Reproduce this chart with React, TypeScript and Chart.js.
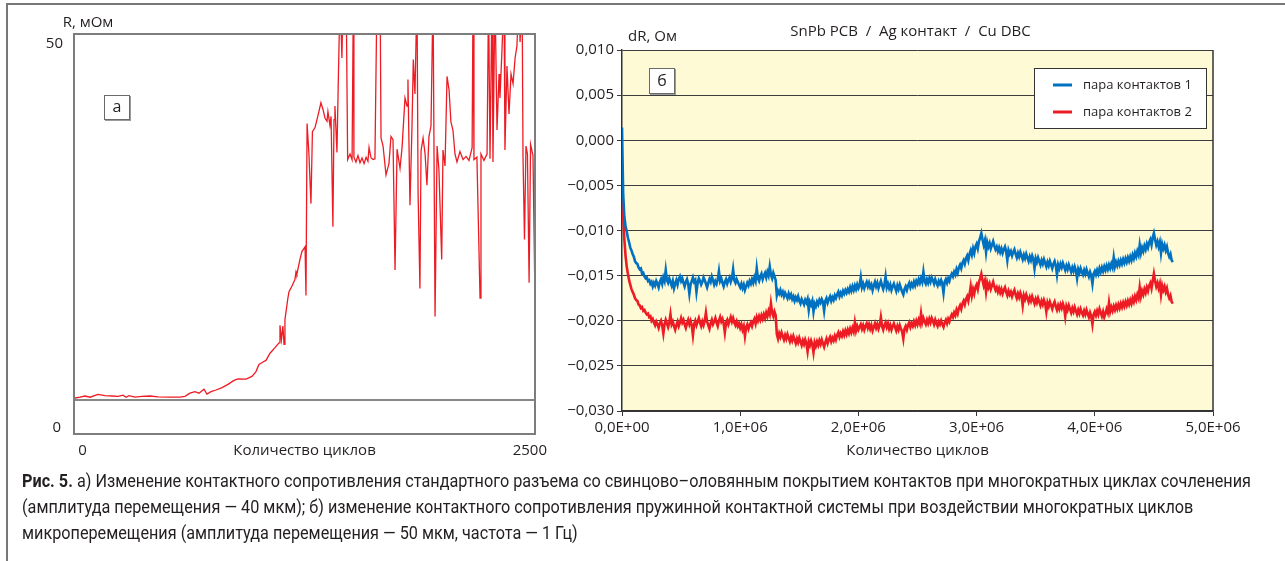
import React, { useEffect, useLayoutEffect, useRef } from "react";
import { Chart, registerables } from "chart.js";

Chart.register(...registerables);

// ---------------- Chart (а): contact resistance, mOhm vs cycles ----------------
const aCycles = [
  5, 33, 60, 87, 130, 168, 206, 239, 266, 282, 298, 331, 369, 412, 456, 521, 575, 602, 629, 656,
  678, 705, 721, 743, 770, 803, 835, 868, 889, 933, 965, 987, 1003, 1025, 1041, 1063, 1090, 1112, 1117, 1125,
  1133, 1139, 1144, 1160, 1166, 1182, 1198, 1204, 1209, 1226, 1236, 1253, 1258, 1264, 1274, 1285, 1293, 1307, 1323, 1339,
  1350, 1361, 1372, 1377, 1388, 1394, 1404, 1410, 1415, 1426, 1434, 1443, 1453, 1459, 1470, 1476, 1484, 1497, 1508, 1515,
  1518, 1529, 1540, 1551, 1562, 1573, 1584, 1594, 1600, 1611, 1622, 1632, 1643, 1660, 1665, 1676, 1692, 1708, 1719, 1730,
  1741, 1752, 1768, 1779, 1795, 1806, 1811, 1822, 1833, 1840, 1849, 1860, 1866, 1876, 1882, 1893, 1904, 1914, 1925, 1936,
  1947, 1958, 1969, 1979, 1994, 2001, 2012, 2023, 2034, 2044, 2055, 2066, 2077, 2093, 2110, 2126, 2142, 2159, 2164, 2169,
  2185, 2202, 2207, 2223, 2240, 2248, 2256, 2267, 2272, 2283, 2294, 2305, 2310, 2321, 2332, 2337, 2348, 2359, 2370, 2381,
  2392, 2402, 2413, 2419, 2430, 2435, 2443, 2451, 2459, 2468, 2476, 2489, 2500,
];
const aR = [
  4.5, 4.6, 4.75, 4.6, 4.95, 4.8, 4.75, 4.7, 4.85, 4.6, 4.8, 4.6, 4.7, 4.75, 4.65, 4.6, 4.6, 4.7, 5.1, 5.3,
  5.1, 5.6, 5.0, 5.3, 5.5, 5.8, 6.2, 6.7, 6.9, 6.85, 7.2, 7.8, 8.7, 9.0, 9.2, 10.1, 10.8, 11.4, 13.6, 11.8,
  13.5, 11.2, 14.3, 17.0, 17.8, 18.5, 19.3, 20.3, 20.0, 21.9, 22.8, 23.4, 17.3, 38.8, 35.0, 28.8, 37.8, 38.3, 39.8, 41.4,
  40.6, 39.5, 39.1, 40.3, 38.6, 39.7, 25.9, 39.3, 41.0, 35.2, 45.0, 55, 47, 55, 55, 55, 34.3, 35.0, 34.3, 55,
  34.6, 34.0, 34.8, 33.9, 34.5, 33.8, 34.6, 34.1, 35.8, 34.5, 34.3, 34.4, 55, 55, 37.0, 36.0, 32.4, 33.8, 37.2, 36.8,
  20.5, 35.6, 33.2, 35.8, 42.0, 41.0, 44.3, 28.6, 38.5, 46.8, 42.5, 55, 30.0, 18.2, 35.4, 37.0, 35.0, 31.1, 37.2, 38.5,
  55, 14.7, 36.0, 33.0, 21.8, 35.5, 33.5, 44.7, 43.0, 39.0, 38.0, 35.0, 34.0, 35.3, 34.3, 34.7, 34.2, 35.8, 55, 34.3,
  34.6, 17.0, 35.0, 34.2, 35.0, 55, 34.4, 55, 34.0, 55, 38.0, 45.0, 42.0, 48.0, 55, 35.5, 46.0, 40.0, 45.0, 43.8,
  47.0, 48.5, 55, 49.0, 55, 34.7, 24.3, 36.0, 35.0, 18.9, 36.2, 34.8, 16.8,
];
const aRefLine = 4.25;
const aXRange = [0, 2500];
const aYRange = [0, 50];

// ---------------- Chart (б): dR (mOhm) vs cycles, one reading every 10 000 cycles ----------------
const bCycleStep = 10000;
const bPair1 = [
  1.4, -6.0, -8.5, -9.5, -10.1, -10.8, -11.3, -11.9, -12.2, -12.6,
  -12.9, -13.4, -13.6, -13.7, -14.1, -14.3, -14.2, -14.8, -14.7, -15.1,
  -15.3, -15.2, -15.6, -15.5, -15.9, -15.7, -16.2, -15.8, -16.1, -15.6,
  -15.9, -16.3, -15.7, -15.4, -15.9, -15.2, -15.6, -14.4, -15.5, -15.8,
  -15.3, -15.7, -16.1, -15.6, -16.4, -15.9, -15.5, -16.0, -15.4, -15.1,
  -15.6, -15.3, -15.8, -16.2, -15.7, -15.4, -15.9, -17.0, -16.0, -15.6,
  -15.2, -15.7, -15.5, -16.8, -15.8, -15.3, -15.6, -16.0, -15.7, -15.2,
  -15.5, -15.9, -16.3, -15.8, -15.4, -15.7, -15.1, -15.5, -16.0, -15.6,
  -15.9, -15.4, -14.5, -15.6, -15.3, -15.8, -16.2, -15.7, -15.4, -15.9,
  -15.5, -15.2, -15.7, -15.3, -14.3, -15.5, -15.8, -15.4, -15.7, -16.0,
  -16.3, -15.9, -16.4, -16.0, -16.6, -16.2, -15.8, -16.1, -15.6, -15.9,
  -15.4, -15.8, -15.2, -15.6, -14.2, -15.3, -15.6, -15.1, -14.8, -15.4,
  -15.0, -14.7, -15.2, -14.6, -15.0, -14.0, -14.9, -15.3, -14.7, -15.1,
  -15.5, -17.2, -16.7, -17.0, -16.6, -17.1, -16.8, -17.3, -16.9, -17.2,
  -17.5, -17.0, -17.4, -17.1, -17.6, -17.3, -17.8, -17.4, -17.7, -17.3,
  -17.8, -18.1, -17.6, -17.9, -18.2, -17.7, -18.0, -17.6, -18.8, -17.9,
  -18.2, -17.8, -19.0, -18.1, -18.4, -17.9, -18.2, -17.7, -18.0, -17.6,
  -17.9, -18.9, -17.8, -17.5, -18.0, -17.6, -17.3, -17.8, -17.4, -17.7,
  -17.2, -17.5, -17.1, -16.8, -17.3, -16.9, -17.2, -16.7, -17.0, -16.6,
  -16.9, -16.5, -16.8, -16.3, -16.7, -16.2, -16.6, -16.1, -16.5, -16.0,
  -16.4, -16.1, -15.2, -16.3, -15.9, -16.4, -16.0, -15.7, -16.2, -15.8,
  -16.3, -16.0, -16.6, -16.1, -15.7, -16.2, -15.8, -16.4, -16.0, -15.6,
  -16.1, -16.5, -16.0, -15.1, -16.3, -15.9, -16.4, -16.0, -16.6, -16.2,
  -15.9, -16.3, -16.7, -16.1, -16.5, -16.0, -16.4, -16.8, -17.1, -16.5,
  -16.2, -16.6, -16.1, -15.8, -16.3, -15.9, -16.2, -15.7, -16.1, -15.6,
  -15.9, -15.4, -15.8, -15.3, -15.7, -14.6, -15.6, -15.9, -15.4, -15.8,
  -15.3, -15.7, -15.2, -15.5, -15.9, -15.4, -15.8, -16.1, -15.6, -15.9,
  -15.5, -15.9, -16.9, -15.7, -15.4, -15.8, -15.3, -15.6, -15.1, -14.8,
  -15.1, -14.6, -14.9, -14.3, -14.7, -14.1, -13.8, -14.2, -13.6, -13.3,
  -13.7, -13.1, -12.8, -13.3, -12.6, -12.2, -12.7, -12.0, -12.5, -11.8,
  -11.5, -12.0, -11.2, -10.8, -10.3, -11.0, -11.6, -11.1, -12.4, -11.3,
  -11.8, -11.4, -12.0, -11.6, -11.2, -11.7, -12.1, -11.8, -12.3, -11.9,
  -12.4, -12.0, -12.5, -12.1, -11.8, -12.3, -13.3, -12.2, -12.6, -12.3,
  -12.8, -12.4, -12.1, -12.6, -13.0, -12.5, -12.9, -12.4, -12.8, -13.2,
  -12.7, -13.1, -12.6, -13.0, -13.4, -12.9, -13.3, -12.8, -13.2, -14.2,
  -13.1, -13.5, -13.0, -13.4, -13.8, -13.3, -13.7, -13.2, -13.6, -14.0,
  -13.5, -13.9, -13.4, -13.8, -14.2, -13.7, -13.4, -13.9, -14.9, -13.8,
  -14.2, -13.7, -14.1, -13.6, -14.0, -14.4, -13.9, -14.3, -13.8, -14.2,
  -14.6, -14.1, -14.5, -14.0, -14.4, -15.3, -14.3, -14.7, -14.2, -14.6,
  -14.9, -14.4, -14.8, -14.3, -14.7, -15.1, -14.6, -15.0, -15.9, -14.8,
  -14.5, -14.9, -14.4, -14.8, -14.2, -14.6, -14.1, -14.5, -14.0, -14.4,
  -13.9, -14.3, -13.8, -14.2, -13.7, -14.1, -13.0, -14.0, -13.5, -13.9,
  -13.4, -13.8, -13.3, -13.7, -13.2, -13.6, -13.1, -13.5, -13.0, -13.4,
  -12.9, -13.3, -12.7, -13.1, -12.5, -12.9, -12.3, -12.7, -11.6, -12.5,
  -11.9, -12.3, -11.7, -12.1, -11.5, -11.9, -11.3, -11.0, -11.6, -10.8,
  -10.3, -11.0, -11.6, -11.2, -11.8, -11.3, -12.5, -11.5, -12.0, -11.6,
  -12.2, -11.8, -12.5, -12.9, -12.6, -13.3, -13.5,
];
const bPair2 = [
  -5.0, -8.5, -11.0, -12.8, -14.0, -14.8, -15.5, -16.0, -16.5, -16.8,
  -17.1, -17.5, -17.7, -17.8, -18.2, -18.3, -18.6, -18.5, -18.9, -18.8,
  -19.1, -19.3, -19.2, -19.6, -19.5, -20.0, -19.8, -20.2, -20.5, -20.1,
  -20.4, -20.8, -20.3, -20.0, -20.5, -21.4, -20.4, -19.9, -20.3, -20.7,
  -20.2, -19.3, -20.4, -20.1, -20.6, -21.0, -20.5, -20.1, -20.6, -20.2,
  -19.7, -20.2, -19.9, -20.4, -20.8, -20.3, -19.9, -20.4, -20.0, -20.5,
  -21.6, -20.4, -20.0, -20.5, -20.1, -19.7, -20.2, -20.6, -20.1, -20.5,
  -20.0, -19.1, -20.1, -20.5, -20.9, -20.3, -19.9, -20.4, -20.1, -19.7,
  -20.2, -20.6, -20.0, -19.6, -20.1, -19.8, -20.3, -21.3, -20.2, -19.9,
  -20.4, -20.0, -19.6, -20.1, -19.7, -20.2, -20.5, -20.1, -20.6, -20.3,
  -20.8, -20.4, -21.0, -20.6, -21.7, -20.7, -20.4, -20.9, -20.5, -20.2,
  -20.6, -20.1, -19.8, -20.3, -19.6, -20.0, -19.5, -19.9, -19.4, -19.8,
  -19.3, -19.7, -19.1, -19.5, -18.9, -19.3, -18.1, -19.1, -19.5, -19.0,
  -19.4, -21.5, -22.0, -21.4, -21.8, -21.3, -21.7, -22.1, -21.6, -22.0,
  -21.5, -21.9, -22.3, -21.8, -22.2, -21.7, -22.1, -22.5, -22.0, -22.4,
  -21.9, -22.3, -22.7, -22.2, -22.6, -22.1, -22.5, -23.4, -22.3, -22.7,
  -22.2, -22.6, -23.5, -22.4, -22.8, -22.3, -22.7, -22.2, -22.6, -22.1,
  -22.5, -22.9, -22.4, -22.0, -22.5, -22.1, -21.8, -22.3, -21.9, -22.2,
  -21.7, -22.1, -21.6, -21.3, -21.8, -21.4, -21.7, -21.2, -21.6, -21.1,
  -21.5, -21.0, -21.4, -20.9, -21.3, -20.8, -21.2, -20.2, -21.1, -20.6,
  -21.0, -20.7, -20.4, -20.9, -20.5, -21.0, -20.6, -20.3, -20.8, -20.4,
  -20.9, -20.5, -21.1, -20.7, -20.3, -20.8, -20.4, -20.9, -20.5, -19.6,
  -20.6, -21.0, -20.5, -20.2, -20.7, -20.3, -20.9, -20.5, -21.0, -20.6,
  -20.3, -20.7, -21.1, -20.6, -21.0, -20.5, -20.9, -21.2, -22.0, -20.9,
  -20.6, -21.0, -20.5, -20.2, -20.7, -20.3, -20.6, -20.1, -20.5, -20.0,
  -20.4, -19.9, -20.3, -19.2, -20.2, -19.7, -20.1, -20.4, -19.9, -20.3,
  -19.8, -20.2, -19.7, -20.0, -20.4, -19.9, -20.3, -20.6, -20.1, -20.4,
  -20.0, -20.4, -20.7, -20.2, -19.9, -20.3, -19.8, -20.1, -19.6, -19.3,
  -19.6, -19.1, -19.4, -18.8, -19.2, -18.6, -18.3, -18.7, -18.1, -17.8,
  -18.2, -17.6, -17.3, -17.8, -17.1, -16.2, -17.2, -16.5, -17.0, -16.3,
  -16.0, -16.5, -15.7, -15.3, -14.8, -15.5, -16.1, -15.6, -16.8, -15.8,
  -16.3, -15.9, -16.5, -16.1, -15.7, -16.2, -16.6, -16.3, -16.8, -16.4,
  -16.9, -16.5, -17.0, -16.6, -16.3, -16.8, -17.2, -16.7, -17.1, -16.8,
  -17.3, -16.9, -16.6, -17.1, -17.5, -17.0, -17.4, -16.9, -17.3, -18.3,
  -17.2, -17.6, -17.1, -17.5, -17.9, -17.4, -17.8, -17.3, -17.7, -18.1,
  -17.6, -18.0, -17.5, -17.9, -18.3, -17.8, -18.2, -17.7, -18.1, -19.0,
  -18.0, -18.4, -17.9, -18.3, -18.7, -18.2, -17.9, -18.4, -18.8, -18.3,
  -18.7, -18.2, -18.6, -18.1, -18.5, -19.5, -18.4, -18.8, -18.3, -18.7,
  -19.1, -18.6, -19.0, -18.5, -18.9, -19.3, -18.8, -19.2, -18.7, -19.1,
  -19.4, -18.9, -19.3, -18.8, -19.2, -19.6, -19.1, -19.5, -20.4, -19.3,
  -19.0, -19.4, -18.9, -19.3, -18.7, -19.1, -19.5, -19.0, -19.6, -19.2,
  -18.7, -19.1, -18.0, -19.0, -18.5, -18.9, -18.4, -18.8, -18.3, -18.7,
  -18.2, -18.6, -18.1, -18.5, -18.0, -18.4, -17.9, -18.3, -17.8, -18.2,
  -17.7, -18.1, -17.5, -17.9, -17.3, -17.7, -17.1, -17.5, -16.3, -17.3,
  -16.7, -17.1, -16.5, -16.9, -16.3, -16.7, -16.1, -15.8, -16.4, -15.6,
  -14.8, -15.6, -16.2, -15.8, -16.4, -15.9, -17.1, -16.1, -16.6, -16.2,
  -16.8, -16.4, -17.1, -17.5, -17.2, -17.9, -18.1,
];
const bSeriesNames = ["пара контактов 1", "пара контактов 2"];
const bXRange = [0, 5e6];
const bXStep = 1e6;
const bYRange = [-0.03, 0.01];
const bYStep = 0.005;

const captionLines = [
  "а) Изменение контактного сопротивления стандартного разъема со свинцово–оловянным покрытием контактов при многократных циклах сочленения",
  "(амплитуда перемещения — 40 мкм); б) изменение контактного сопротивления пружинной контактной системы при воздействии многократных циклов",
  "микроперемещения (амплитуда перемещения — 50 мкм, частота — 1 Гц)",
];
const captionWidth = 1229;

const FONT = "'Open Sans', 'Noto Sans', sans-serif";
const TEXT = "#231f20";
const RED = "#ed1c24";
const BLUE = "#0070c0";

function txt(ctx: CanvasRenderingContext2D, s: string, x: number, y: number, align: CanvasTextAlign, size = 15) {
  ctx.save();
  ctx.font = `${size}px ${FONT}`;
  ctx.fillStyle = TEXT;
  ctx.textAlign = align;
  ctx.textBaseline = "middle";
  ctx.fillText(s, x, y);
  ctx.restore();
}

function labelBox(ctx: CanvasRenderingContext2D, s: string, x: number, y: number, w: number, h: number) {
  ctx.save();
  ctx.fillStyle = "#9a9a9a";
  ctx.fillRect(x + 1, y + 1, w, h);
  ctx.fillStyle = "#ffffff";
  ctx.fillRect(x, y, w, h);
  ctx.strokeStyle = "#6a6a6a";
  ctx.lineWidth = 1;
  ctx.strokeRect(x + 0.5, y + 0.5, w - 1, h - 1);
  ctx.restore();
  txt(ctx, s, x + w / 2, y + h / 2, "center", 16);
}

const fmtY = (v: number) => {
  const n = Math.abs(v) < 1e-9 ? 0 : v;
  const s = Math.abs(n).toFixed(3).replace(".", ",");
  return n < 0 ? "−" + s : s;
};
const fmtX = (v: number) => {
  const [m, e] = Number(v).toExponential(1).split("e");
  const ev = parseInt(e, 10);
  return m.replace(".", ",") + "E" + (ev < 0 ? "-" : "+") + String(Math.abs(ev)).padStart(2, "0");
};

function ChartA() {
  const ref = useRef<HTMLCanvasElement>(null);
  useEffect(() => {
    const n = Math.min(aCycles.length, aR.length);
    const data = [];
    for (let i = 0; i < n; i++) data.push({ x: aCycles[i], y: aR[i] });
    const deco = {
      id: "decoA",
      afterDatasetsDraw(chart: any) {
        const { ctx, chartArea: ca } = chart;
        ctx.save();
        ctx.strokeStyle = "#7d7d7d";
        ctx.lineWidth = 2;
        ctx.strokeRect(ca.left, ca.top, ca.right - ca.left, ca.bottom - ca.top);
        ctx.restore();
        labelBox(ctx, "а", ca.left + 30, ca.top + 61, 26, 25);
        txt(ctx, "R, мОм", ca.left + 14, ca.top - 11, "center");
        txt(ctx, String(aYRange[1]), ca.left - 11, ca.top + 10, "right");
        txt(ctx, String(aYRange[0]), ca.left - 13, ca.bottom - 6, "right");
        txt(ctx, String(aXRange[0]), ca.left + 8.5, ca.bottom + 17, "center");
        txt(ctx, String(aXRange[1]), ca.right + 12, ca.bottom + 17, "right");
        txt(ctx, "Количество циклов", (ca.left + ca.right) / 2, ca.bottom + 17, "center");
      },
    };
    const chart = new Chart(ref.current!, {
      type: "line",
      data: {
        datasets: [
          { data, borderColor: RED, borderWidth: 1.3, pointRadius: 0, tension: 0 },
          {
            data: [
              { x: aXRange[0], y: aRefLine },
              { x: aXRange[1], y: aRefLine },
            ],
            borderColor: "#111111",
            borderWidth: 1.2,
            pointRadius: 0,
          },
        ],
      },
      options: {
        animation: false,
        responsive: false,
        devicePixelRatio: 1,
        layout: { padding: { left: 74, top: 34, right: 25, bottom: 36 } },
        scales: {
          x: { type: "linear", min: aXRange[0], max: aXRange[1], display: false },
          y: { type: "linear", min: aYRange[0], max: aYRange[1], display: false },
        },
        plugins: { legend: { display: false }, tooltip: { enabled: false } },
      },
      plugins: [deco],
    });
    return () => chart.destroy();
  }, []);
  return (
    <canvas
      ref={ref}
      width={560}
      height={470}
      style={{ position: "absolute", left: 0, top: 0, width: 560, height: 470 }}
    />
  );
}

function ChartB() {
  const ref = useRef<HTMLCanvasElement>(null);
  useEffect(() => {
    const mk = (arr: number[]) => arr.map((v, i) => ({ x: i * bCycleStep, y: v / 1000 }));
    const deco = {
      id: "decoB",
      beforeDraw(chart: any) {
        const { ctx, chartArea: ca } = chart;
        ctx.save();
        ctx.fillStyle = "#fffad6";
        ctx.fillRect(ca.left, ca.top, ca.right - ca.left, ca.bottom - ca.top);
        ctx.restore();
      },
      afterDraw(chart: any) {
        const { ctx, chartArea: ca } = chart;
        ctx.save();
        ctx.strokeStyle = "#333333";
        ctx.lineWidth = 1.5;
        ctx.beginPath();
        ctx.moveTo(ca.right, ca.top);
        ctx.lineTo(ca.right, ca.bottom);
        ctx.stroke();
        ctx.restore();
        txt(ctx, "SnPb PCB  /  Ag контакт  /  Cu DBC", (ca.left + ca.right) / 2 - 7, ca.top - 18, "center", 15);
        txt(ctx, "dR, Ом", ca.left + 6, ca.top - 13, "left");
        txt(ctx, "Количество циклов", (ca.left + ca.right) / 2, ca.bottom + 40, "center");
        labelBox(ctx, "б", ca.left + 27, ca.top + 18, 26, 26);
        const lx = ca.right - 179;
        const ly = ca.top + 18;
        const lw = 173;
        const lh = 61;
        ctx.save();
        ctx.fillStyle = "#ffffff";
        ctx.fillRect(lx, ly, lw, lh);
        ctx.strokeStyle = "#333333";
        ctx.lineWidth = 1;
        ctx.strokeRect(lx + 0.5, ly + 0.5, lw - 1, lh - 1);
        const colors = [BLUE, RED];
        bSeriesNames.forEach((name, i) => {
          const yy = ly + 17 + i * 27;
          ctx.strokeStyle = colors[i];
          ctx.lineWidth = 3;
          ctx.beginPath();
          ctx.moveTo(lx + 19, yy);
          ctx.lineTo(lx + 38, yy);
          ctx.stroke();
          txt(ctx, name, lx + 49, yy, "left", 13);
        });
        ctx.restore();
      },
    };
    const chart = new Chart(ref.current!, {
      type: "line",
      data: {
        datasets: [
          { label: bSeriesNames[0], data: mk(bPair1), borderColor: BLUE, borderWidth: 2.6, pointRadius: 0, tension: 0 },
          { label: bSeriesNames[1], data: mk(bPair2), borderColor: RED, borderWidth: 2.6, pointRadius: 0, tension: 0 },
        ],
      },
      options: {
        animation: false,
        responsive: false,
        devicePixelRatio: 1,
        layout: { padding: { left: 0, top: 50, right: 72, bottom: 19 } },
        scales: {
          x: {
            type: "linear",
            min: bXRange[0],
            max: bXRange[1],
            afterFit: (s: any) => {
              s.height = 40;
            },
            ticks: {
              stepSize: bXStep,
              callback: (v: any) => fmtX(Number(v)),
              font: { family: FONT, size: 15 },
              color: TEXT,
              padding: 3,
              maxRotation: 0,
            },
            grid: { drawOnChartArea: false, drawTicks: true, tickLength: 5, color: "#333333", lineWidth: 1 },
            border: { display: true, color: "#333333", width: 1.5 },
          },
          y: {
            type: "linear",
            min: bYRange[0],
            max: bYRange[1],
            afterFit: (s: any) => {
              s.width = 82;
            },
            ticks: {
              stepSize: bYStep,
              callback: (v: any) => fmtY(Number(v)),
              font: { family: FONT, size: 15 },
              color: TEXT,
              padding: 3,
            },
            grid: { drawTicks: true, tickLength: 5, color: "#3c3c3c", lineWidth: 1 },
            border: { display: true, color: "#333333", width: 1.5 },
          },
        },
        plugins: { legend: { display: false }, tooltip: { enabled: false } },
      },
      plugins: [deco],
    });
    return () => chart.destroy();
  }, []);
  return (
    <canvas
      ref={ref}
      width={745}
      height={470}
      style={{ position: "absolute", left: 540, top: 0, width: 745, height: 470 }}
    />
  );
}

function Caption() {
  const ref = useRef<HTMLDivElement>(null);
  useLayoutEffect(() => {
    const fit = () => {
      const el = ref.current;
      if (!el) return;
      el.style.transform = "none";
      const first = el.firstElementChild as HTMLElement;
      const w = first.getBoundingClientRect().width;
      if (w > 0) el.style.transform = `scaleX(${captionWidth / w})`;
    };
    fit();
    if ((document as any).fonts && (document as any).fonts.ready) (document as any).fonts.ready.then(fit);
  }, []);
  const line = { width: "max-content" } as React.CSSProperties;
  return (
    <div
      ref={ref}
      style={{
        position: "absolute",
        left: 22,
        top: 468,
        fontFamily: "'Roboto', 'Noto Sans', sans-serif",
        fontSize: 18,
        lineHeight: "26px",
        color: TEXT,
        whiteSpace: "nowrap",
        transformOrigin: "0 0",
      }}
    >
      <div style={line}>
        <b>Рис. 5.</b> {captionLines[0]}
      </div>
      <div style={line}>{captionLines[1]}</div>
      <div style={line}>{captionLines[2]}</div>
    </div>
  );
}

export default function App() {
  return (
    <div
      style={{
        position: "absolute",
        left: 0,
        top: 0,
        width: 1285,
        height: 561,
        overflow: "hidden",
        background: "#ffffff",
      }}
    >
      <div
        style={{
          position: "absolute",
          left: 6,
          top: 3,
          width: 1279,
          height: 558,
          borderTop: "2px solid #777777",
          borderLeft: "2px solid #777777",
          boxSizing: "border-box",
        }}
      />
      <ChartA />
      <ChartB />
      <Caption />
    </div>
  );
}
